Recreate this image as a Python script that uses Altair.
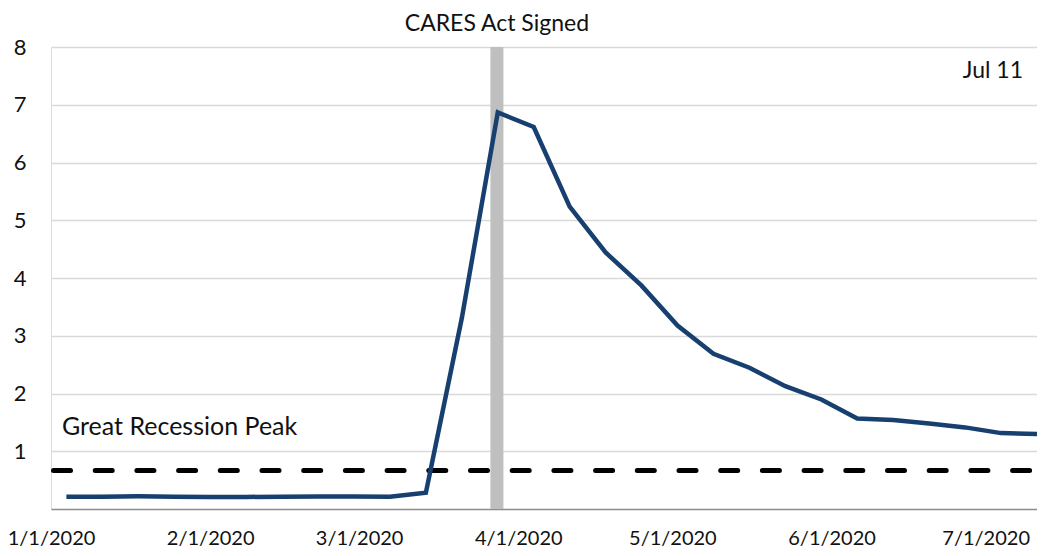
import altair as alt
import pandas as pd

weeks = ["2020-01-04", "2020-01-11", "2020-01-18", "2020-01-25", "2020-02-01", "2020-02-08",
         "2020-02-15", "2020-02-22", "2020-02-29", "2020-03-07", "2020-03-14", "2020-03-21",
         "2020-03-28", "2020-04-04", "2020-04-11", "2020-04-18", "2020-04-25", "2020-05-02",
         "2020-05-09", "2020-05-16", "2020-05-23", "2020-05-30", "2020-06-06", "2020-06-13",
         "2020-06-20", "2020-06-27", "2020-07-04", "2020-07-11"]
claims = [0.214, 0.214, 0.219, 0.214, 0.208, 0.209, 0.213, 0.216, 0.216, 0.214, 0.282, 3.307,
          6.867, 6.615, 5.237, 4.442, 3.867, 3.176, 2.687, 2.446, 2.126, 1.897, 1.566, 1.540,
          1.482, 1.413, 1.314, 1.300]
recession_peak = 0.665
cares_date = "2020-03-27T20:00:00Z"
tick_dates = ["2020-01-01", "2020-02-01", "2020-03-01", "2020-04-01", "2020-05-01", "2020-06-01", "2020-07-01"]

FONT = "Lato"
df = pd.DataFrame({"date": [w + "T00:00:00Z" for w in weeks], "claims": claims})

def dt(s):
    y, m, d = map(int, s.split("-"))
    return alt.DateTime(year=y, month=m, date=d, utc=True)

xscale = alt.Scale(type="utc", domain=[dt("2020-01-01"), dt("2020-07-11")])
yscale = alt.Scale(domain=[0, 8], nice=False)

base = alt.Chart(df)

line = base.mark_line(color="#173f6f", strokeWidth=4.5, strokeJoin="miter").encode(
    x=alt.X("date:T", scale=xscale, title=None,
            axis=alt.Axis(values=[dt(t) for t in tick_dates],
                          labelExpr="utcFormat(datum.value, '%-m/%-d/%Y')",
                          grid=False, ticks=False, domain=True, domainColor="#8c8c8c", domainWidth=1.5,
                          labelFont=FONT, labelFontSize=20, labelColor="#111111", labelPadding=19,
                          labelFlush=False, labelOverlap=False)),
    y=alt.Y("claims:Q", scale=yscale, title=None,
            axis=alt.Axis(values=[1, 2, 3, 4, 5, 6, 7, 8], format="d", grid=True, gridColor="#d9d9d9",
                          gridWidth=1.5, domain=False, ticks=False, labelFont=FONT, labelFontSize=22,
                          labelColor="#111111", labelPadding=25)),
)

bar_df = pd.DataFrame({"date": [cares_date], "lo": [0], "hi": [8], "label": ["CARES Act Signed"]})
bar = alt.Chart(bar_df).mark_rule(color="#bfbfbf", strokeWidth=13).encode(
    x=alt.X("date:T", scale=xscale), y=alt.Y("lo:Q", scale=yscale), y2="hi:Q")
bar_text = alt.Chart(bar_df).mark_text(font=FONT, fontSize=23, color="#111111", baseline="middle").encode(
    x=alt.X("date:T", scale=xscale), y=alt.value(-23), text="label:N")

rec_df = pd.DataFrame({"v": [recession_peak]})
rec = alt.Chart(rec_df).mark_rule(color="black", strokeWidth=5, strokeDash=[17, 24.7], strokeCap="round").encode(
    y=alt.Y("v:Q", scale=yscale), x=alt.value(2.5), x2=alt.value(986))

ann_df = pd.DataFrame({"date": ["2020-01-03T03:00:00Z"], "v": [1.42], "label": ["Great Recession Peak"]})
ann = alt.Chart(ann_df).mark_text(font=FONT, fontSize=25, color="#111111", align="left", baseline="middle").encode(
    x=alt.X("date:T", scale=xscale), y=alt.Y("v:Q", scale=yscale), text="label:N")

jul_df = pd.DataFrame({"date": ["2020-07-11T00:00:00Z"], "v": [7.58], "label": ["Jul 11"]})
jul = alt.Chart(jul_df).mark_text(font=FONT, fontSize=23, color="#111111", align="right", baseline="middle", dx=-14).encode(
    x=alt.X("date:T", scale=xscale), y=alt.Y("v:Q", scale=yscale), text="label:N")

chart = alt.layer(bar, rec, line, bar_text, ann, jul).properties(
    width=986, height=462,
    autosize=alt.AutoSizeParams(type="none"),
    padding={"left": 43, "top": 39, "right": 0, "bottom": 39},
).configure_view(stroke=None).configure(background="white")

chart.save("out.html", embed_options={"renderer": "svg", "actions": False})
